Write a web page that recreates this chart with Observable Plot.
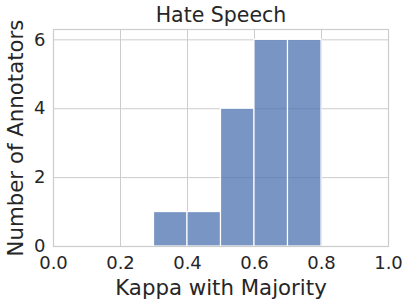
<!DOCTYPE html>
<html>
<head>
<meta charset="utf-8">
<script src="https://cdn.jsdelivr.net/npm/d3@7"></script>
<script src="https://cdn.jsdelivr.net/npm/@observablehq/plot@0.6"></script>
<style>
html,body{margin:0;padding:0;background:#fff;}
svg text{font-family:"DejaVu Sans",sans-serif;}
</style>
</head>
<body>
<div id="chart"></div>
<script>
const binStart = [0.3, 0.4, 0.5, 0.6, 0.7];
const binEnd = [0.4, 0.5, 0.6, 0.7, 0.8];
const counts = [1, 1, 4, 6, 6];
const xTicks = [0.0, 0.2, 0.4, 0.6, 0.8, 1.0];
const yTicks = [0, 2, 4, 6];
const title = "Hate Speech";
const xLabel = "Kappa with Majority";
const yLabel = "Number of Annotators";

const bins = binStart.map((s, i) => ({x1: s, x2: binEnd[i], y: counts[i]}));

const chart = Plot.plot({
  width: 410,
  height: 306,
  marginLeft: 53,
  marginRight: 22,
  marginTop: 29,
  marginBottom: 60,
  style: {background: "#fff", fontFamily: "DejaVu Sans", color: "#262626"},
  x: {domain: [0, 1], ticks: xTicks, tickFormat: d3.format(".1f"), label: null},
  y: {domain: [0, 6.3], ticks: yTicks, tickFormat: d => String(d), label: null},
  marks: [
    Plot.gridX(xTicks, {stroke: "#cccccc", strokeOpacity: 1, strokeWidth: 1}),
    Plot.gridY(yTicks, {stroke: "#cccccc", strokeOpacity: 1, strokeWidth: 1}),
    Plot.rectY(bins, {x1: "x1", x2: "x2", y: "y", fill: "#4c72b0", fillOpacity: 0.75, stroke: "#fff", strokeWidth: 1.2, inset: 0}),
    Plot.frame({stroke: "#cccccc", strokeWidth: 1.2}),
    Plot.axisX(xTicks, {tickSize: 0, tickPadding: 10, fontSize: 18, tickFormat: d3.format(".1f"), label: null, fill: "#262626"}),
    Plot.axisY(yTicks, {tickSize: 0, tickPadding: 8, fontSize: 18, label: null, fill: "#262626"}),
    Plot.text([title], {frameAnchor: "top", lineAnchor: "middle", dy: -14, fontSize: 20.5, fill: "#262626"}),
    Plot.text([xLabel], {frameAnchor: "bottom", lineAnchor: "middle", dy: 42, fontSize: 21.3, fill: "#262626"}),
    Plot.text([yLabel], {frameAnchor: "left", textAnchor: "middle", dx: -37, rotate: -90, fontSize: 21.3, fill: "#262626"})
  ]
});
document.getElementById("chart").appendChild(chart);
</script>
</body>
</html>
